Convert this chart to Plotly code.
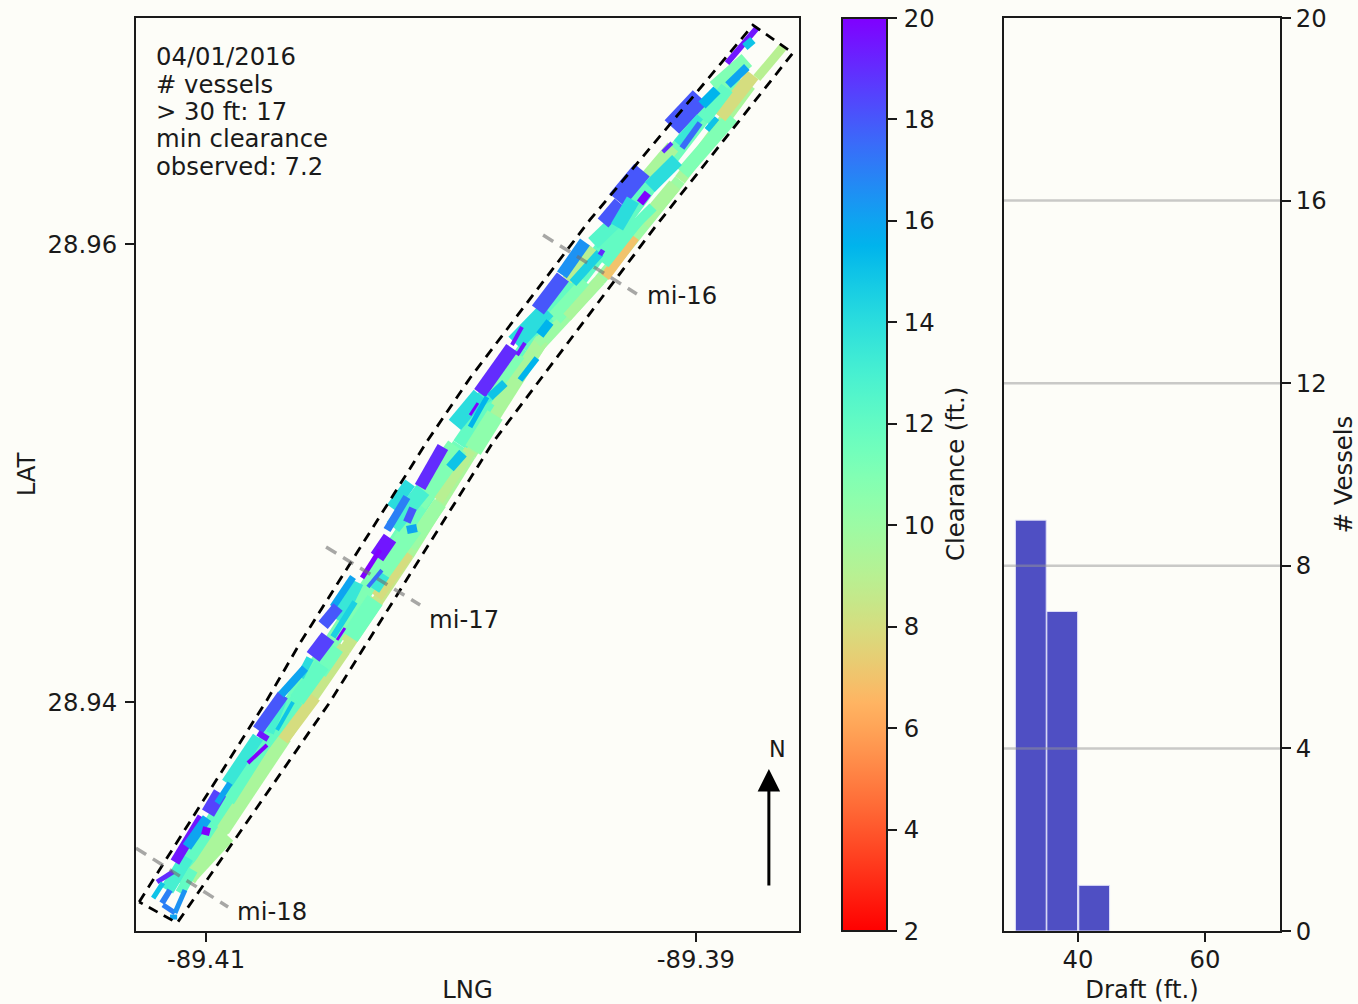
import math
import plotly.graph_objects as go

# ---------- vessel tracks (one entry per vessel, drawn in order) ----------
# long transits along the channel
lng_start = [
 -89.41127,-89.40739,-89.40494,-89.40229,-89.39963,-89.39698,-89.39433,-89.39126,
 -89.41065,-89.40686,-89.40433,-89.40175,-89.39922,-89.39637,-89.39392,-89.39065]
lat_start = [
 28.93223,28.93856,28.94249,28.94686,28.95122,28.95537,28.95908,28.96345,
 28.93223,28.93834,28.94227,28.94642,28.95079,28.95559,28.95843,28.9628]
lng_end = [
 -89.40739,-89.40494,-89.40229,-89.39963,-89.39698,-89.39433,-89.39126,-89.38841,
 -89.40686,-89.40433,-89.40175,-89.39922,-89.39637,-89.39392,-89.39065,-89.38779]
lat_end = [
 28.93856,28.94249,28.94686,28.95122,28.95537,28.95908,28.96345,28.96738,
 28.93834,28.94227,28.94642,28.95079,28.95559,28.95843,28.9628,28.96694]
clearance = [
 12,11.5,11,11.5,12,12,12,11.5,
 9.5,8.5,8.5,9.5,9.5,10,10,9.5]
beam = [
 16,16,16,16,16,16,16,16,
 12,12,12,12,12,12,12,12]

lng_start += [
 -89.41053,-89.40931,-89.40686,-89.40535,-89.40424,-89.40302,-89.40053,-89.40167,-89.4029,-89.40139,
 -89.4031,-89.40535,-89.40629,-89.40914,-89.40767,-89.41078,-89.41053,-89.3991,-89.39812,-89.39841,
 -89.39584,-89.39526,-89.39526,-89.39371,-89.39379,-89.3942,-89.39216,-89.39257,-89.39208,-89.39053,
 -89.38902,-89.38751,-89.38922,-89.38971,-89.39649,
 -89.39098,-89.39322,-89.39379,
 -89.40914,-89.40686,-89.40237,-89.40241,-89.4031,-89.40384,-89.40616,-89.39739,-89.39922,-89.39984,
 -89.39188,-89.39322,-89.39077,-89.39502]
lat_start += [
 28.93249,28.93441,28.93834,28.94105,28.94258,28.94459,28.94882,28.94677,28.94563,28.94869,
 28.94445,28.94127,28.94009,28.93572,28.93812,28.93323,28.93266,28.951,28.95288,28.95363,
 28.95668,28.95681,28.95843,28.95856,28.95917,28.96004,28.96092,28.96074,28.9628,28.9631,
 28.96555,28.96725,28.96681,28.96542,28.95568,
 28.96511,28.96192,28.96092,
 28.93646,28.94009,28.94764,28.94847,28.94489,28.94524,28.94109,28.95568,28.95288,28.9521,
 28.96249,28.96074,28.96441,28.9583]
lng_end += [
 -89.4091,-89.40678,-89.40555,-89.40433,-89.40302,-89.40175,-89.39922,-89.40045,-89.40155,-89.39975,
 -89.40412,-89.40465,-89.40526,-89.40767,-89.40629,-89.41159,-89.41106,-89.3982,-89.39628,-89.3973,
 -89.39445,-89.39384,-89.3942,-89.39249,-89.39241,-89.39322,-89.39086,-89.39175,-89.39094,-89.38853,
 -89.38767,-89.38645,-89.38792,-89.38873,-89.39555,
 -89.38983,-89.3922,-89.3931,
 -89.40788,-89.40739,-89.40114,-89.40167,-89.40269,-89.40461,-89.40575,-89.39608,-89.39841,-89.39882,
 -89.39077,-89.39257,-89.38983,-89.39392]
lat_end += [
 28.93415,28.93847,28.94022,28.9424,28.94445,28.94651,28.951,28.94869,28.94764,28.95114,
 28.94284,28.94236,28.94162,28.93821,28.94009,28.93179,28.93166,28.95253,28.95581,28.95524,
 28.9583,28.95852,28.95983,28.96031,28.96105,28.96105,28.96258,28.96162,28.96424,28.96555,
 28.96738,28.9686,28.96804,28.96681,28.95655,
 28.96642,28.96323,28.96179,
 28.93847,28.93865,28.94926,28.94956,28.94555,28.94358,28.94192,28.95712,28.95349,28.95341,
 28.96367,28.96192,28.96555,28.95961]
clearance += [
 9.5,9.5,8,8.5,8.5,8,9,10,11,11,
 11.5,11.5,12,12,12,13,12,10.5,9.5,11,
 11,9.5,9,7,12,12.5,9.5,12,9.5,11,
 8,9,11,12,10,
 18,18,18,
 13.5,13,13,14,13.5,13.5,14,14,13,14,
 14,14,13.5,14.5]
beam += [
 14,14,12,13,14,12,12,14,20,22,
 18,14,16,16,14,14,10,18,14,18,
 16,10,11,10,14,14,14,10,14,14,
 14,9,16,14,10,
 20,20,14,
 12,8,16,12,10,14,8,18,14,16,
 14,14,8,9]

# vivid, narrower tracks drawn last
lng_start += [
 -89.40788,-89.40788,-89.40829,-89.40943,-89.41016,-89.40996,-89.40902,-89.41016,-89.412,-89.41216,
 -89.4118,-89.41176,-89.41127,-89.41147,-89.40645,-89.40694,-89.40126,-89.40004,-89.40302,-89.40363,
 -89.40339,-89.404,-89.40461,-89.40392,-89.40563,-89.40465,-89.40261,-89.4018,-89.40155,-89.39547,
 -89.39645,-89.39392,-89.39751,-89.39637,-89.39882,-89.39718,-89.3973,-89.39841,-89.39922,-89.39922,
 -89.38873,-89.388,-89.38869,-89.38975,-89.39057,-89.39135,-89.38955,-89.39228]
lat_start += [
 28.93878,28.93865,28.93734,28.93603,28.93498,28.93493,28.93646,28.93441,28.93214,28.93144,
 28.93122,28.93114,28.93079,28.93061,28.94,28.94031,28.94939,28.95022,28.94633,28.94542,
 28.94502,28.94546,28.94415,28.94437,28.94197,28.94271,28.94751,28.94751,28.94847,28.95865,
 28.95712,28.95952,28.95559,28.95603,28.95349,28.95406,28.95515,28.95332,28.95201,28.95253,
 28.9679,28.9686,28.96694,28.96607,28.96419,28.96402,28.96498,28.96179]
lng_end += [
 -89.40686,-89.40747,-89.40751,-89.40992,-89.41127,-89.41078,-89.40955,-89.40984,-89.41135,-89.41176,
 -89.41147,-89.41127,-89.41086,-89.41118,-89.4071,-89.40596,-89.40033,-89.39951,-89.40249,-89.4029,
 -89.40282,-89.40482,-89.40522,-89.40482,-89.40502,-89.40433,-89.4018,-89.40139,-89.4018,-89.39453,
 -89.39543,-89.39379,-89.3971,-89.39596,-89.39751,-89.39649,-89.39698,-89.3978,-89.39853,-89.3989,
 -89.38751,-89.38767,-89.38792,-89.38914,-89.38983,-89.39098,-89.38914,-89.39196]
lat_end += [
 28.94031,28.93838,28.93812,28.93515,28.93301,28.93367,28.93559,28.93432,28.93258,28.9321,
 28.93179,28.93079,28.93179,28.93061,28.93878,28.94148,28.95114,28.95087,28.94716,28.94664,
 28.94576,28.94415,28.94336,28.94284,28.94284,28.94323,28.94895,28.9476,28.94786,28.96009,
 28.95856,28.95974,28.95638,28.95659,28.95546,28.95502,28.95568,28.95393,28.95332,28.95306,
 28.96943,28.96891,28.96773,28.96673,28.96528,28.96441,28.9655,28.96223]
clearance += [
 18,19.5,20,18.5,19.5,16,16,20,19,15,
 17,17,16.5,16,15,16,19,15,19.5,20,
 17.5,16,18,14.5,18.5,20,17,16,18,16.5,
 18,19,19.5,15.5,19,15.5,19.5,15,15.5,20,
 19.5,15,16,15.5,17.5,19,15,20]
beam += [
 12,6,4,14,10,10,6,8,5,5,
 6,5,5,5,4,8,12,10,15,5,
 4,7,12,6,16,3,8,8,8,12,
 15,5,4,9,14,6,4,8,5,3,
 6,8,8,10,6,4,6,8]

# ---------- channel outline and river-mile markers ----------
corridor_lng = [-89.41273,-89.40751,-89.40616,-89.40094,-89.39922,-89.39433,-89.38767,-89.38604,
                -89.39167,-89.39828,-89.40433,-89.40494,-89.41118,-89.41273]
corridor_lat = [28.93127,28.94009,28.94258,28.95144,28.95415,28.96105,28.96956,28.96834,
                28.96074,28.95135,28.94105,28.94,28.93035,28.93127]
mile_names = ["mi-16","mi-17","mi-18"]
mile_lng = [[-89.39624,-89.39241],[-89.4051,-89.40126],[-89.41286,-89.4091]]
mile_lat = [[28.96039,28.95782],[28.94677,28.94424],[28.93362,28.93105]]
mile_label_lng = [-89.39208,-89.40098,-89.40881]
mile_label_lat = [28.95777,28.94362,28.93087]

north_lng = -89.38702
north_lat = [28.93192,28.93707]
north_label_lat = 28.93795

info_lines = ["04/01/2016","# vessels","&gt; 30 ft: 17","min clearance","observed: 7.2"]

# ---------- histogram ----------
draft_centers = [32.57,37.52,42.55]
draft_counts = [9,7,1]
draft_bar_width = 4.85
grid_levels = [4,8,12,16]

lng_range = [-89.41286,-89.38579]
lat_range = [28.93,28.96987]
lng_ticks = [-89.41,-89.39]
lng_ticklabels = ["-89.41","-89.39"]
lat_ticks = [28.94,28.96]
lat_ticklabels = ["28.94","28.96"]
cbar_ticks = list(range(2,21,2))
count_ticks = [0,4,8,12,16,20]
draft_ticks = [40,60]

W,H = 1358,1004
TOP,BOTTOM = 18,931
FONT = "DejaVu Sans"
FS = 24.3
BG = "#fdfdf8"
INK = "#1a1a1a"

def rainbow_r(v):
    t = 1-(v-2)/18
    r = min(1,abs(2*t-0.5))
    g = math.sin(math.pi*t)
    b = math.cos(math.pi*t/2)
    return "rgb(%d,%d,%d)"%(round(r*255),round(g*255),round(b*255))

scale = [[i/36, rainbow_r(2+i/2)] for i in range(37)]

fig = go.Figure()
for a,b,c,d,v,w in zip(lng_start,lat_start,lng_end,lat_end,clearance,beam):
    fig.add_trace(go.Scatter(x=[a,c],y=[b,d],mode="lines",
        line=dict(color=rainbow_r(v),width=w),showlegend=False,hoverinfo="skip"))

# colour bar carrier
fig.add_trace(go.Scatter(x=[(a+c)/2 for a,c in zip(lng_start,lng_end)],
    y=[(b+d)/2 for b,d in zip(lat_start,lat_end)],mode="markers",
    marker=dict(size=1,opacity=0,color=clearance,
        cmin=2,cmax=20,colorscale=scale,showscale=True,
        colorbar=dict(x=842/W,xanchor="left",y=0,yanchor="bottom",len=1,lenmode="fraction",
            thickness=45,thicknessmode="pixels",xpad=0,ypad=0,
            outlinecolor=INK,outlinewidth=2,borderwidth=0,
            tickmode="array",tickvals=cbar_ticks,ticktext=["\u200a"+str(t) for t in cbar_ticks],
            ticks="outside",ticklen=9,tickwidth=2,tickcolor=INK,
            tickfont=dict(family=FONT,size=FS,color=INK))),
    showlegend=False,hoverinfo="skip"))

fig.add_trace(go.Scatter(x=corridor_lng,y=corridor_lat,mode="lines",
    line=dict(color="#000000",width=2.8,dash="10px,7px"),showlegend=False,hoverinfo="skip"))
for n,xs,ys in zip(mile_names,mile_lng,mile_lat):
    fig.add_trace(go.Scatter(x=xs,y=ys,mode="lines",name=n,
        line=dict(color="rgba(110,110,110,0.6)",width=3.5,dash="12px,8px"),showlegend=False,hoverinfo="skip"))

fig.add_trace(go.Bar(x=draft_centers,y=draft_counts,width=draft_bar_width,xaxis="x2",yaxis="y2",
    marker=dict(color="#4f4fc3",line=dict(color="#e0e0f8",width=1)),showlegend=False,hoverinfo="skip"))

def py(p):
    return (BOTTOM-p)/(BOTTOM-TOP)

ann = []
for i,t in enumerate(info_lines):
    ann.append(dict(text=t,xref="paper",yref="paper",x=154/W,y=py(57+27.3*i),xanchor="left",yanchor="middle",
        showarrow=False,font=dict(family=FONT,size=FS,color=INK)))
for n,x,y in zip(mile_names,mile_label_lng,mile_label_lat):
    ann.append(dict(text=n,xref="x",yref="y",x=x,y=y,xanchor="left",yanchor="middle",showarrow=False,
        font=dict(family=FONT,size=FS,color=INK)))
ann.append(dict(text="N",xref="x",yref="y",x=north_lng+0.00037,y=north_label_lat,showarrow=False,
    font=dict(family=FONT,size=FS-2,color=INK)))
ann.append(dict(text="",xref="x",yref="y",axref="x",ayref="y",x=north_lng,y=north_lat[1],
    ax=north_lng,ay=north_lat[0],showarrow=True,arrowhead=2,arrowsize=1.5,arrowwidth=3,arrowcolor="#000000"))
ann.append(dict(text="Clearance (ft.)",xref="paper",yref="paper",x=955/W,y=py(474),textangle=-90,showarrow=False,
    xanchor="center",yanchor="middle",font=dict(family=FONT,size=FS,color=INK)))

shapes = [dict(type="line",xref="x2 domain",yref="y2",x0=0,x1=1,y0=g,y1=g,layer="above",
    line=dict(color="rgba(150,150,150,0.5)",width=2.5)) for g in grid_levels]

axis = dict(showline=True,linecolor=INK,linewidth=2,mirror=True,showgrid=False,zeroline=False,
    ticks="outside",ticklen=9,tickwidth=2,tickcolor=INK,
    tickfont=dict(family=FONT,size=FS,color=INK))

fig.update_layout(width=W,height=H,autosize=False,margin=dict(l=0,r=0,t=TOP,b=H-BOTTOM),
    paper_bgcolor=BG,plot_bgcolor=BG,showlegend=False,annotations=ann,shapes=shapes,
    font=dict(family=FONT,size=FS,color=INK),
    xaxis=dict(axis,domain=[136/W,799/W],range=lng_range,tickmode="array",tickvals=lng_ticks,ticktext=lng_ticklabels,
        ticklabelstandoff=-3,title=dict(text="LNG",standoff=9,font=dict(family=FONT,size=FS,color=INK))),
    yaxis=dict(axis,domain=[0,1],range=lat_range,tickmode="array",tickvals=lat_ticks,ticktext=lat_ticklabels,
        ticklabelstandoff=3,title=dict(text="LAT",standoff=5,font=dict(family=FONT,size=FS,color=INK))),
    xaxis2=dict(axis,domain=[1004/W,1280/W],range=[28.35,71.81],anchor="y2",tickmode="array",tickvals=draft_ticks,
        ticktext=[str(t) for t in draft_ticks],ticklabelstandoff=-3,
        title=dict(text="Draft (ft.)",standoff=9,font=dict(family=FONT,size=FS,color=INK))),
    yaxis2=dict(axis,domain=[0,1],range=[0,20],anchor="x2",side="right",tickmode="array",tickvals=count_ticks,
        ticktext=[str(t) for t in count_ticks],
        title=dict(text="# Vessels",standoff=15,font=dict(family=FONT,size=FS,color=INK))),
)
fig.write_html("out.html",config=dict(displayModeBar=False),
    post_script="document.body.style.margin='0';document.documentElement.style.overflow='hidden';")
